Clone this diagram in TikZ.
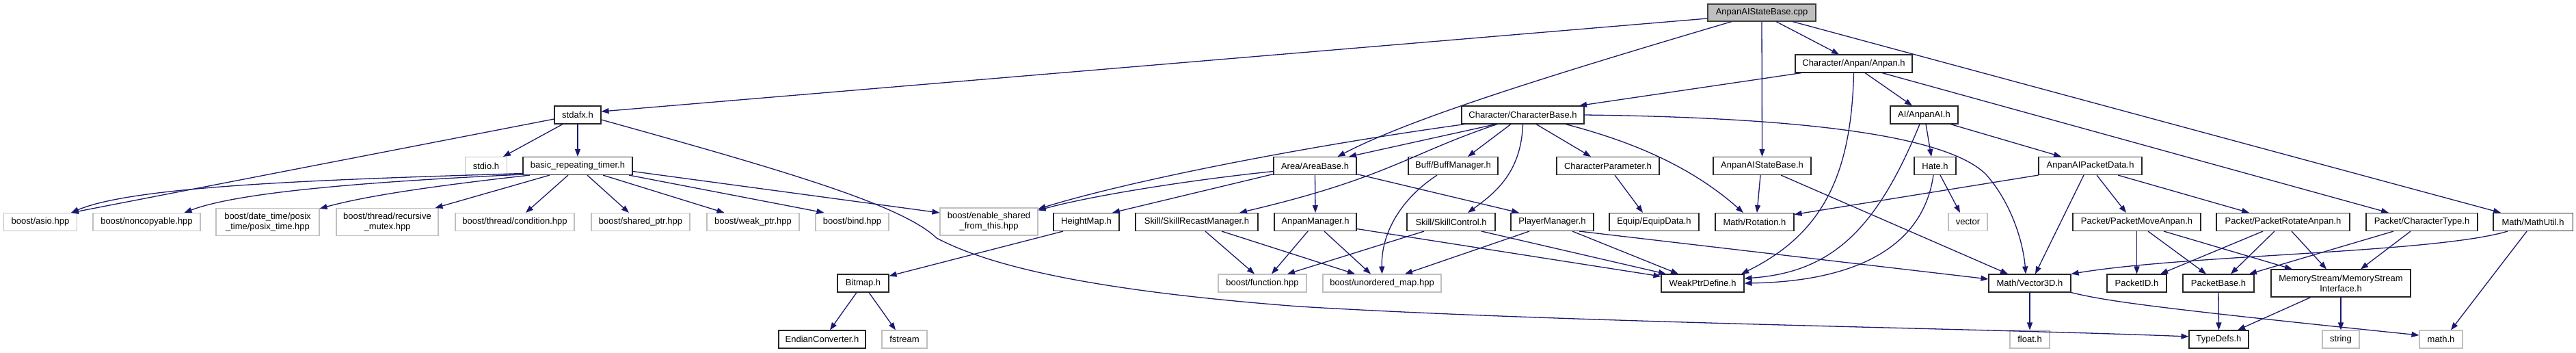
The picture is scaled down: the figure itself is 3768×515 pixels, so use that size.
\documentclass[tikz,border=0pt]{standalone}
\usepackage{fontspec}
\setmainfont{Liberation Sans}
\usetikzlibrary{arrows.meta}
\definecolor{edgeblue}{HTML}{191970}
\definecolor{sysgray}{HTML}{BFBFBF}

\begin{document}
\begin{tikzpicture}[
    x=1pt, y=-1pt,
    font=\fontsize{13}{15}\selectfont,
    incfile/.style={
        rectangle, draw=black!85, line width=1.1pt,
        fill=white, inner sep=0pt,
        minimum height=26pt, align=center
    },
    sysfile/.style={incfile, draw=sysgray},
    rootfile/.style={incfile, fill=sysgray, draw=black!75, minimum height=25pt},
    twoline/.style={minimum height=40pt},
    dep/.style={draw=edgeblue, line width=1.3pt, -{Triangle[length=11pt,width=8pt]}}
]
\useasboundingbox (0,0) rectangle (3768,515);

% ============ Root ============
\node[rootfile, minimum width=158pt] (cpp) at (2577,18.5) {AnpanAIStateBase.cpp};

% ============ Upper levels ============
\node[incfile, minimum width=171pt] (anpan) at (2711.5,93) {Character/Anpan/Anpan.h};
\node[incfile, minimum width=68pt] (stdafx) at (845,168) {stdafx.h};
\node[incfile, minimum width=179pt] (charbase) at (2227.5,168) {Character/CharacterBase.h};
\node[incfile, minimum width=99pt] (anpanai) at (2814.5,168) {AI/AnpanAI.h};

\node[sysfile, minimum width=61pt] (stdio) at (711,242.5) {stdio.h};
\node[incfile, minimum width=160pt] (timer) at (845,242.5) {basic\_repeating\_timer.h};
\node[incfile, minimum width=121pt] (areabase) at (1923.5,242.5) {Area/AreaBase.h};
\node[incfile, minimum width=131pt] (buffmgr) at (2125.5,242.5) {Buff/BuffManager.h};
\node[incfile, minimum width=150pt] (charparam) at (2352,242.5) {CharacterParameter.h};
\node[incfile, minimum width=143pt] (statebaseh) at (2577.5,242.5) {AnpanAIStateBase.h};
\node[incfile, minimum width=61pt] (hate) at (2830.5,242.5) {Hate.h};
\node[incfile, minimum width=151pt] (packetdata) at (3057.5,242.5) {AnpanAIPacketData.h};

% ============ Middle row ============
\node[sysfile, minimum width=107pt] (asio) at (59,324.5) {boost/asio.hpp};
\node[sysfile, minimum width=157pt] (noncopy) at (214.5,324.5) {boost/noncopyable.hpp};
\node[sysfile, twoline, minimum width=151pt] (datetime) at (391.5,324.5) {boost/date\_time/posix\\\_time/posix\_time.hpp};
\node[sysfile, twoline, minimum width=149pt] (mutex) at (566.5,324.5) {boost/thread/recursive\\\_mutex.hpp};
\node[sysfile, minimum width=174pt] (condition) at (753,324.5) {boost/thread/condition.hpp};
\node[sysfile, minimum width=144pt] (sharedptr) at (937,324.5) {boost/shared\_ptr.hpp};
\node[sysfile, minimum width=135pt] (weakptr) at (1101.5,324.5) {boost/weak\_ptr.hpp};
\node[sysfile, minimum width=107pt] (bind) at (1246.5,324.5) {boost/bind.hpp};
\node[sysfile, twoline, minimum width=143pt] (enableshared) at (1446.5,324) {boost/enable\_shared\\\_from\_this.hpp};
\node[incfile, minimum width=96pt] (heightmap) at (1589,324.5) {HeightMap.h};
\node[incfile, minimum width=179pt] (recast) at (1750.5,324.5) {Skill/SkillRecastManager.h};
\node[incfile, minimum width=120pt] (anpanmgr) at (1924,324.5) {AnpanManager.h};
\node[incfile, minimum width=129pt] (skillctrl) at (2122.5,324.5) {Skill/SkillControl.h};
\node[incfile, minimum width=121pt] (playermgr) at (2270.5,324.5) {PlayerManager.h};
\node[incfile, minimum width=131pt] (equip) at (2419.5,324.5) {Equip/EquipData.h};
\node[incfile, minimum width=115pt] (rotation) at (2566.5,324.5) {Math/Rotation.h};
\node[sysfile, minimum width=57pt] (vector) at (2878.5,324.5) {vector};
\node[incfile, minimum width=187pt] (pmove) at (3125.5,324.5) {Packet/PacketMoveAnpan.h};
\node[incfile, minimum width=195pt] (protate) at (3339.5,324.5) {Packet/PacketRotateAnpan.h};
\node[incfile, minimum width=163pt] (chartype) at (3542.5,324.5) {Packet/CharacterType.h};
\node[incfile, minimum width=116pt] (mathutil) at (3705,324.5) {Math/MathUtil.h};

% ============ Lower rows ============
\node[incfile, minimum width=75pt] (bitmap) at (1262.5,414) {Bitmap.h};
\node[sysfile, minimum width=129pt] (function) at (1846.5,414) {boost/function.hpp};
\node[sysfile, minimum width=173pt] (unordered) at (2021.5,414) {boost/unordered\_map.hpp};
\node[incfile, minimum width=121pt] (weakdef) at (2490.5,414) {WeakPtrDefine.h};
\node[incfile, minimum width=120pt] (vector3d) at (2969,414) {Math/Vector3D.h};
\node[incfile, minimum width=87pt] (packetid) at (3125.5,414) {PacketID.h};
\node[incfile, minimum width=104pt] (packetbase) at (3245,414) {PacketBase.h};
\node[incfile, twoline, minimum width=204pt] (memstream) at (3424,414) {MemoryStream/MemoryStream\\Interface.h};

\node[incfile, minimum width=127pt] (endian) at (1202.5,496) {EndianConverter.h};
\node[sysfile, minimum width=66pt] (fstream) at (1323,496) {fstream};
\node[sysfile, minimum width=58pt] (floath) at (2969,496) {float.h};
\node[incfile, minimum width=87pt] (typedefs) at (3245.5,496) {TypeDefs.h};
\node[sysfile, minimum width=54pt] (stringh) at (3424,496) {string};
\node[sysfile, minimum width=63pt] (mathh) at (3570.5,496) {math.h};

% ============ From the cpp file ============
\draw[dep] ([yshift=-8.5pt]cpp.west) -- ([yshift=5pt]stdafx.east);
\draw[dep] ([xshift=-44pt]cpp.south) .. controls (2250,115) and (2060,175) .. ([xshift=33pt]areabase.north);
\draw[dep] ([xshift=21pt]cpp.south) -- ([xshift=-21.5pt]anpan.north);
\draw[dep] (cpp.south) -- (statebaseh.north);
\draw[dep] ([xshift=45pt]cpp.south) -- ([xshift=-47pt]mathutil.north);

% ============ stdafx.h ============
\draw[dep] ([yshift=-6pt]stdafx.west) -- ([xshift=45pt]asio.north);
\draw[dep] ([xshift=-22pt]stdafx.south) -- ([xshift=25pt]stdio.north);
\draw[dep] (stdafx.south) -- (timer.north);
\draw[dep] ([yshift=-7pt]stdafx.east) .. controls (1150,250) and (1320,300) .. (1370,348)
    .. controls (1450,390) and (1600,425) .. (1900,448)
    .. controls (2300,472) and (2900,480) .. ([yshift=4pt]typedefs.west);

% ============ basic_repeating_timer.h ============
\draw[dep] ([yshift=-11pt]timer.west) .. controls (500,262) and (200,270) .. ([xshift=45pt]asio.north);
\draw[dep] ([yshift=-12.5pt]timer.west) .. controls (550,265) and (350,280) .. ([xshift=55pt]noncopy.north);
\draw[dep] ([xshift=-70pt]timer.south) .. controls (650,270) and (540,285) .. ([yshift=-1pt]datetime.north east);
\draw[dep] ([xshift=-41pt]timer.south) -- ([xshift=70pt]mutex.north);
\draw[dep] ([xshift=-14pt]timer.south) -- ([xshift=16pt]condition.north);
\draw[dep] ([xshift=14pt]timer.south) -- ([xshift=-17pt]sharedptr.north);
\draw[dep] ([xshift=37pt]timer.south) -- ([xshift=-42pt]weakptr.north);
\draw[dep] ([xshift=75pt]timer.south) -- ([xshift=-41pt]bind.north);
\draw[dep] ([yshift=-8pt]timer.east) -- ([yshift=13pt]enableshared.west);

% ============ CharacterBase.h ============
\draw[dep] ([xshift=5pt]charbase.south west) .. controls (1900,215) and (1650,265) .. ([yshift=-2pt]enableshared.north east);
\draw[dep] ([xshift=-39.5pt]charbase.south) -- ([xshift=49.5pt]areabase.north);
\draw[dep] ([xshift=-37.5pt]charbase.south) .. controls (2060,225) and (2030,260) .. ([xshift=62.5pt]recast.north);
\draw[dep] ([xshift=-17.5pt]charbase.south) -- ([xshift=21.5pt]buffmgr.north);
\draw[dep] (charbase.south) .. controls (2225,250) and (2190,280) .. ([xshift=24.5pt]skillctrl.north);
\draw[dep] ([xshift=19.5pt]charbase.south) -- ([xshift=-25pt]charparam.north);
\draw[dep] ([xshift=62.5pt]charbase.south) .. controls (2380,205) and (2470,240) .. ([xshift=-16.5pt]rotation.north);
\draw[dep] (charbase.east) .. controls (2650,172) and (2850,200) .. (2905,255)
    .. controls (2945,300) and (2960,360) .. ([xshift=-6pt]vector3d.north);
\draw[dep] ([xshift=10pt]charparam.south) -- ([xshift=-16.5pt]equip.north);

% ============ AreaBase.h and managers ============
\draw[dep] ([yshift=-8pt]areabase.west) .. controls (1750,262) and (1600,285) .. ([yshift=-4pt]enableshared.north east);
\draw[dep] ([yshift=-12pt]areabase.west) -- ([xshift=38pt]heightmap.north);
\draw[dep] (areabase.south) -- (anpanmgr.north);
\draw[dep] ([yshift=-12pt]areabase.east) -- ([xshift=-48.5pt]playermgr.north);
\draw[dep] ([xshift=-23.5pt]buffmgr.south) .. controls (2050,290) and (2020,340) .. (unordered.north);
\draw[dep] ([xshift=12.5pt]recast.south) -- ([xshift=-11.5pt]function.north);
\draw[dep] ([xshift=36.5pt]recast.south) -- ([xshift=-39.5pt]unordered.north);
\draw[dep] ([xshift=-11pt]anpanmgr.south) -- ([xshift=13.5pt]function.north);
\draw[dep] ([xshift=13pt]anpanmgr.south) -- ([xshift=-16.5pt]unordered.north);
\draw[dep] ([yshift=-10pt]anpanmgr.east) -- ([yshift=10pt]weakdef.west);
\draw[dep] ([xshift=-39.5pt]skillctrl.south) -- ([xshift=36.5pt]function.north);
\draw[dep] ([xshift=44.5pt]skillctrl.south) -- ([xshift=-53.5pt]weakdef.north);
\draw[dep] ([xshift=-33.5pt]playermgr.south) -- ([xshift=33.5pt]unordered.north);
\draw[dep] ([xshift=29.5pt]playermgr.south) -- ([xshift=-35.5pt]weakdef.north);
\draw[dep] ([xshift=39.5pt]playermgr.south) -- ([yshift=6pt]vector3d.west);

% ============ HeightMap.h / Bitmap.h ============
\draw[dep] ([xshift=-34pt]heightmap.south) -- ([yshift=-3pt]bitmap.north east);
\draw[dep] ([xshift=-9.5pt]bitmap.south) -- ([xshift=11.5pt]endian.north);
\draw[dep] ([xshift=8.5pt]bitmap.south) -- ([xshift=-13pt]fstream.north);

% ============ Anpan.h ============
\draw[dep] ([xshift=-76.5pt]anpan.south) -- ([xshift=82.5pt]charbase.north);
\draw[dep] (anpan.south) .. controls (2708,250) and (2670,340) .. ([xshift=56.5pt]weakdef.north);
\draw[dep] ([xshift=16.5pt]anpan.south) -- ([xshift=-17.5pt]anpanai.north);
\draw[dep] ([xshift=41.5pt]anpan.south) -- ([xshift=-48.5pt]chartype.north);

% ============ AnpanAIStateBase.h ============
\draw[dep] ([xshift=-2.5pt]statebaseh.south) -- ([xshift=3.5pt]rotation.north);
\draw[dep] ([xshift=27.5pt]statebaseh.south) -- ([xshift=-32pt]vector3d.north);

% ============ AnpanAI.h / Hate.h ============
\draw[dep] ([xshift=-6.5pt]anpanai.south) .. controls (2745,335) and (2680,398) .. ([yshift=7pt]weakdef.east);
\draw[dep] ([xshift=2.5pt]anpanai.south) -- ([xshift=-5.5pt]hate.north);
\draw[dep] ([xshift=38.5pt]anpanai.south) -- ([xshift=-42.5pt]packetdata.north);
\draw[dep] ([xshift=-2.5pt]hate.south) .. controls (2810,380) and (2680,412) .. (weakdef.east);
\draw[dep] ([xshift=7.5pt]hate.south) -- ([xshift=-11.5pt]vector.north);

% ============ AnpanAIPacketData.h ============
\draw[dep] (packetdata.south west) -- ([yshift=11pt]rotation.east);
\draw[dep] ([xshift=-9.5pt]packetdata.south) -- ([xshift=8pt]vector3d.north);
\draw[dep] ([xshift=9.5pt]packetdata.south) -- ([xshift=-15.5pt]pmove.north);
\draw[dep] ([xshift=40.5pt]packetdata.south) -- ([xshift=-49.5pt]protate.north);

% ============ Packets ============
\draw[dep] (pmove.south) -- (packetid.north);
\draw[dep] ([xshift=16.5pt]pmove.south) -- ([xshift=-18pt]packetbase.north);
\draw[dep] ([xshift=39.5pt]pmove.south) -- ([xshift=-71pt]memstream.north);
\draw[dep] ([xshift=-29.5pt]protate.south) -- ([xshift=34.5pt]packetid.north);
\draw[dep] ([xshift=-12.5pt]protate.south) -- ([xshift=18pt]packetbase.north);
\draw[dep] ([xshift=12.5pt]protate.south) -- ([xshift=-21pt]memstream.north);
\draw[dep] ([xshift=-41.5pt]chartype.south) -- ([xshift=45pt]packetbase.north);
\draw[dep] ([xshift=-16.5pt]chartype.south) -- ([xshift=29pt]memstream.north);
\draw[dep] (packetbase.south) -- (typedefs.north);
\draw[dep] ([xshift=-44pt]memstream.south) -- ([xshift=27.5pt]typedefs.north);
\draw[dep] (memstream.south) -- (stringh.north);

% ============ Math ============
\draw[dep] ([xshift=-37pt]mathutil.south) .. controls (3560,370) and (3200,372) .. (vector3d.north east);
\draw[dep] ([xshift=-9pt]mathutil.south) -- ([xshift=14.5pt]mathh.north);
\draw[dep] (vector3d.south) -- (floath.north);
\draw[dep] (vector3d.south east) .. controls (3080,440) and (3150,450) .. ([yshift=6pt]mathh.west);

\end{tikzpicture}
\end{document}
